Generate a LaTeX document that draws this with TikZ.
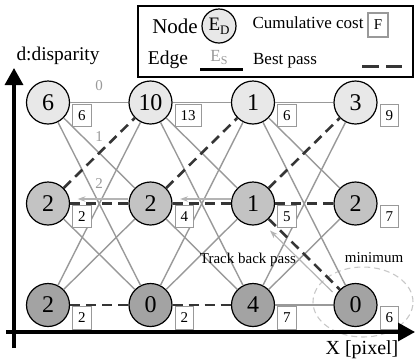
\documentclass[tikz,border=0pt]{standalone}
\usepackage{fontspec}
\setmainfont{Liberation Serif}
\usetikzlibrary{arrows.meta,calc,shapes.geometric}

\definecolor{fillA}{HTML}{E8E8E8}
\definecolor{fillB}{HTML}{C3C3C3}
\definecolor{fillC}{HTML}{A3A3A3}
\definecolor{edgegray}{HTML}{999999}
\definecolor{boxgray}{HTML}{999999}
\definecolor{passgray}{HTML}{353535}
\definecolor{trackgray}{HTML}{B4B4B4}
\definecolor{ringgray}{HTML}{C8C8C8}

\newcommand{\fs}[1]{\fontsize{#1}{#1}\selectfont}

\begin{document}
\begin{tikzpicture}[x=1pt,y=-1pt,
  state/.style={circle,draw=black,line width=1.2pt,minimum size=43pt,inner sep=0pt,font=\fs{24}},
  toprow/.style={state,fill=fillA},
  midrow/.style={state,fill=fillB},
  lowrow/.style={state,fill=fillC},
  costbox/.style={draw=boxgray,line width=1.2pt,fill=white,inner xsep=5.5pt,inner ysep=0pt,
    minimum height=22.5pt,font=\fs{15},anchor=north west},
  edge/.style={draw=edgegray,line width=1.4pt},
  best/.style={draw=passgray,line width=2.6pt,dash pattern=on 10pt off 6pt},
  track/.style={draw=trackgray,line width=1.2pt,-{Stealth[length=8pt,width=5.5pt]}},
  elabel/.style={text=edgegray,font=\fs{15},inner sep=0pt},
  axis/.style={line width=3.2pt,-{Triangle[length=17pt,width=18pt]}},
]
\useasboundingbox (0,0) rectangle (416,360);

% ---- trellis nodes ----
\node[toprow] (t1) at (48,102.5) {6};
\node[toprow] (t2) at (150.5,102.5) {10};
\node[toprow] (t3) at (253,102.5) {1};
\node[toprow] (t4) at (355.5,102.5) {3};
\node[midrow] (m1) at (48,203.5) {2};
\node[midrow] (m2) at (150.5,203.5) {2};
\node[midrow] (m3) at (253,203.5) {1};
\node[midrow] (m4) at (355.5,203.5) {2};
\node[lowrow] (b1) at (48,305) {2};
\node[lowrow] (b2) at (150.5,305) {0};
\node[lowrow] (b3) at (253,305) {4};
\node[lowrow] (b4) at (355.5,305) {0};

% ---- minimum marker ----
\node[draw=ringgray,line width=1.1pt,dash pattern=on 6pt off 4pt,ellipse,
      minimum width=100pt,minimum height=70pt,inner sep=0pt] (minring) at (363,302) {};

% ---- transition edges ----
% column 1 -> 2
\draw[edge] (t1) -- node[elabel,yshift=16.5pt]{0} (t2);
\draw[edge] (t1) -- node[elabel,yshift=16pt]{1} (m2);
\draw[edge] (t1) -- node[elabel,yshift=20.5pt]{2} (b2);
\draw[edge] (m1) -- (b2);
\draw[edge] (b1) -- (m2);
\draw[edge] (b1) -- (t2);
% column 2 -> 3
\draw[edge] (t2) -- (t3);
\draw[edge] (t2) -- (m3);
\draw[edge] (t2) -- (b3);
\draw[edge] (m2) -- (b3);
\draw[edge] (b2) -- (m3);
\draw[edge] (b2) -- (t3);
% column 3 -> 4
\draw[edge] (t3) -- (t4);
\draw[edge] (t3) -- (m4);
\draw[edge] (t3) -- (b4);
\draw[edge] (m4) -- (b3);
\draw[edge] (b3) -- (t4);
\draw[edge] (b3) -- (b4);

% best pass
\draw[best] (m1) -- (t2);
\draw[best] (m1) -- (m2);
\draw[best] (b1) -- (b2);
\draw[best] (m2) -- (t3);
\draw[best] (m2) -- (m3);
\draw[best] (b2) -- (b3);
\draw[best] (m3) -- (t4);
\draw[best] (m3) -- (m4);
\draw[best] (m3) -- (b4);

% track back arrows
\draw[track] ([yshift=4.5pt]m2.west) -- ([xshift=7.5pt,yshift=4.5pt]m1.east);
\draw[track] ([yshift=4.5pt]m3.west) -- ([xshift=7.5pt,yshift=4.5pt]m2.east);
\draw[track] ($(b4)+(-23,-13)$) -- ($(m3)+(17,27)$);

% cumulative costs
\node[costbox] (ct1) at ($(t1)+(24,1)$) {6};
\node[costbox] (ct2) at ($(t2)+(24,1)$) {13};
\node[costbox] (ct3) at ($(t3)+(24,1)$) {6};
\node[costbox] (ct4) at ($(t4)+(24,1)$) {9};
\node[costbox] (cm1) at ($(m1)+(24,1)$) {2};
\node[costbox] (cm2) at ($(m2)+(24,1)$) {4};
\node[costbox] (cm3) at ($(m3)+(24,1)$) {5};
\node[costbox] (cm4) at ($(m4)+(24,1)$) {7};
\node[costbox] (cb1) at ($(b1)+(24,1)$) {2};
\node[costbox] (cb2) at ($(b2)+(24,1)$) {2};
\node[costbox] (cb3) at ($(b3)+(24,1)$) {7};
\node[costbox] (cb4) at ($(b4)+(24,1)$) {6};

% annotations
\node[font=\fs{15},anchor=base] (tbtext) at (248,263) {Track back pass};
\node[font=\fs{15},anchor=base] (mintext) at (374,262) {minimum};

% ---- axes ----
\coordinate (yfoot) at (14,348);
\coordinate (ytip) at (14,68);
\coordinate (xfoot) at (6,332);
\coordinate (xtip) at (415,332);
\draw[axis] (yfoot) -- (ytip);
\draw[axis] (xfoot) -- (xtip);
\node[font=\fs{19.4},anchor=base] (ylab) at (58,60) {d:disparity};
\node[font=\fs{20},anchor=base] (xlab) at (362,354) {X [pixel]};

% ---- legend ----
\node[draw=black,line width=1.3pt,fill=white,minimum width=275pt,minimum height=71pt,
      inner sep=0pt] (legend) at (275.5,41.5) {};
\node[font=\fs{21},anchor=base] (lgnode) at (175,33) {Node};
\node[circle,draw=black,line width=1.2pt,fill=fillA,minimum size=34pt,inner sep=0pt,
      font=\fs{19}] (lgcircle) at (219,26) {E\raisebox{-0.45ex}{\fs{13}D}};
\node[font=\fs{17},anchor=base] (lgcum) at (308,28) {Cumulative cost};
\node[draw=boxgray,line width=1.2pt,fill=white,minimum width=20pt,minimum height=24pt,
      inner sep=0pt,font=\fs{15}] (lgbox) at (378,25) {F};
\node[font=\fs{19.5},anchor=base] (lgedge) at (168,64) {Edge};
\node[text=edgegray,font=\fs{17},anchor=base] (lges) at (219,61) {E\raisebox{-0.45ex}{\fs{12}S}};
\coordinate (lgl1) at (200,69);
\coordinate (lgl2) at (243,69);
\draw[line width=3pt] (lgl1) -- (lgl2);
\node[font=\fs{17},anchor=base] (lgbest) at (285,64) {Best pass};
\coordinate (lgd1) at (362,66);
\coordinate (lgd2) at (402,66);
\draw[draw=passgray,line width=3pt,dash pattern=on 17pt off 7pt] (lgd1) -- (lgd2);
\end{tikzpicture}
\end{document}
